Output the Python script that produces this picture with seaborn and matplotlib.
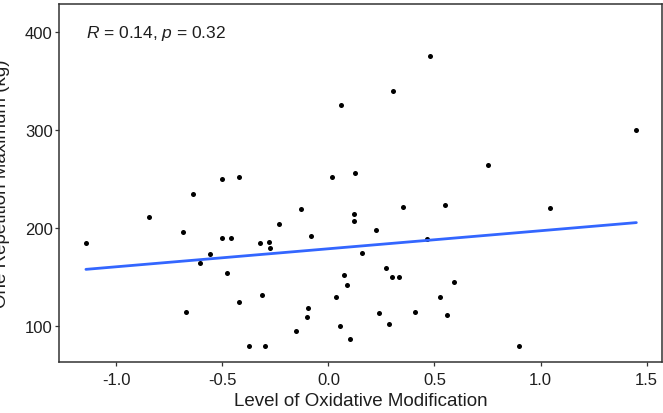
import matplotlib
matplotlib.use("Agg")
import matplotlib.pyplot as plt
import seaborn as sns
import pandas as pd

# Oxidative modification level vs. one repetition maximum
oxidation = [
    0.058, 0.305, 0.479, 1.452, -0.641, -0.848, -0.686, -1.144, -0.560, -0.502,
    -0.424, 0.018, 0.127, -0.130, 0.120, 0.120, -0.235, -0.081, -0.501, -0.461,
    -0.323, -0.281, -0.277, 0.158, 0.751, 0.350, 0.551, 0.226, 0.463, 1.046,
    0.900, -0.605, -0.672, -0.477, 0.075, 0.087, -0.315, 0.035, -0.424, -0.095,
    -0.103, 0.053, -0.155, 0.101, -0.374, -0.301, 0.270, 0.301, 0.334, 0.590,
    0.527, 0.238, 0.407, 0.560, 0.284,
]
one_rm = [
    326, 340, 376, 300, 235, 212, 196, 185, 174, 250,
    252, 252, 256, 220, 215, 208, 204, 192, 190, 190,
    185, 186, 180, 175, 265, 222, 224, 198, 189, 221,
    80, 165, 115, 154, 152, 142, 132, 130, 125, 119,
    110, 100, 95, 87, 80, 80, 160, 150, 150, 145,
    130, 114, 115, 112, 102,
]
x_ticks = [-1.0, -0.5, 0.0, 0.5, 1.0, 1.5]
y_ticks = [100, 200, 300, 400]
stat_label = r"$\it{R}$ = 0.14, $\it{p}$ = 0.32"

df = pd.DataFrame({"oxidation": oxidation, "one_rm": one_rm})

sns.set_style("white")
plt.rcParams["font.family"] = ["Liberation Sans", "DejaVu Sans"]
plt.rcParams["mathtext.fontset"] = "custom"
plt.rcParams["mathtext.it"] = "Liberation Sans:italic"
plt.rcParams["mathtext.rm"] = "Liberation Sans"

fig = plt.figure(figsize=(6.63, 4.14), dpi=100)
ax = fig.add_axes([59 / 663, 51 / 414, 603 / 663, 358 / 414])

sns.regplot(
    data=df, x="oxidation", y="one_rm", ax=ax, ci=None,
    scatter_kws=dict(s=13, color="black", linewidths=0, alpha=1, zorder=2),
    line_kws=dict(color="#3366FF", linewidth=2.0, zorder=3),
)

ax.set_xlim(-1.271, 1.573)
ax.set_ylim(63.6, 429)
ax.set_xticks(x_ticks)
ax.set_xticklabels([f"{t:.1f}" for t in x_ticks])
ax.set_yticks(y_ticks)
ax.set_yticklabels([str(t) for t in y_ticks])

text_color = "#1e1e1e"
ax.tick_params(axis="both", which="both", direction="out", length=3, width=0.9,
               color="#333333", labelsize=12, labelcolor=text_color, pad=1.5,
               bottom=True, left=True)
ax.tick_params(axis="x", pad=4)
for sp in ax.spines.values():
    sp.set_color("#333333")
    sp.set_linewidth(1.1)

ax.set_xlabel("Level of Oxidative Modification", fontsize=13.5, color=text_color, labelpad=4)
ax.set_ylabel("One Repetition Maximum (kg)", fontsize=13.5, color=text_color)
ax.yaxis.set_label_coords(-0.082, 0.5)

ax.text(-1.144, 400, stat_label, fontsize=12.5, color=text_color, ha="left", va="center")

fig.savefig("out.png", dpi=100)
